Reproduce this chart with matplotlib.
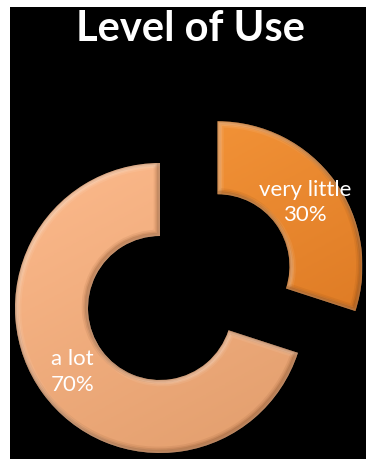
import numpy as np
import matplotlib
matplotlib.use("Agg")
import matplotlib.pyplot as plt
from matplotlib.patches import Rectangle, PathPatch
from matplotlib.colors import LinearSegmentedColormap
from matplotlib.transforms import Affine2D

title = "Level of Use"
labels = ["very little", "a lot"]
values = [30, 70]
colors_top = ["#F7983C", "#FDBA8C"]
colors_bottom = ["#D8741F", "#E19D6C"]

W, H = 366, 459
fig = plt.figure(figsize=(W / 100, H / 100), dpi=100, facecolor="white")
ax = fig.add_axes([0, 0, 1, 1])
ax.set_axis_off()

# black panel behind the chart
ax.add_patch(Rectangle((10, 0), W - 10, H - 7, facecolor="black", edgecolor="none", zorder=0))

R = 145
ring = 73
wedges, _ = ax.pie(values, radius=R, center=(160, 151), startangle=90, counterclock=False,
                   explode=[0.49 * R, 0.0],
                   wedgeprops=dict(width=ring, edgecolor="none", linewidth=0),
                   colors=colors_top, frame=True)
ax.set_xlim(0, W)
ax.set_ylim(0, H)
ax.set_aspect("auto")

for w, ct, cb in zip(wedges, colors_top, colors_bottom):
    cx, cy = w.center
    # diagonal shading, light at upper left, darker toward lower right
    cmap = LinearSegmentedColormap.from_list("shade", [ct, cb])
    yy, xx = np.mgrid[0:1:200j, 0:1:200j]
    grad = 0.35 * xx + 0.65 * (1 - yy)
    im = ax.imshow(grad, cmap=cmap, origin="lower", aspect="auto",
                   extent=(cx - R, cx + R, cy - R, cy + R), zorder=2)
    im.set_clip_path(w)

    # soft embossed rim: light toward upper left, shadow toward lower right
    outline = w.get_patch_transform().transform_path(w.get_path())
    for col, shift in [((1, 1, 1), (1.5, -1.5)), ((0.3, 0.12, 0.0), (-1.5, 1.5))]:
        for lw, a in [(7, 0.07), (4.5, 0.10), (2.5, 0.14)]:
            rim = PathPatch(outline, facecolor="none", edgecolor=(*col, a), linewidth=lw,
                            transform=ax.transData + Affine2D().translate(*shift), zorder=3)
            ax.add_patch(rim)
            rim.set_clip_path(w)
    w.set_facecolor("none")
    w.set_zorder(4)

# labels sit in the middle of each ring segment
for w, lab, v in zip(wedges, labels, values):
    cx, cy = w.center
    mid = np.deg2rad((w.theta1 + w.theta2) / 2)
    rm = w.r - w.width / 2
    ax.text(cx + rm * np.cos(mid), cy + rm * np.sin(mid), f"{lab}\n{v}%",
            color="white", fontsize=16, family="Lato", ha="center", va="center",
            linespacing=1.35, zorder=5)

ax.text(190, H - 29, title, color="white", fontsize=30, fontweight="bold", family="Lato",
        ha="center", va="center", zorder=5)

fig.savefig("out.png", dpi=100, facecolor="white")
